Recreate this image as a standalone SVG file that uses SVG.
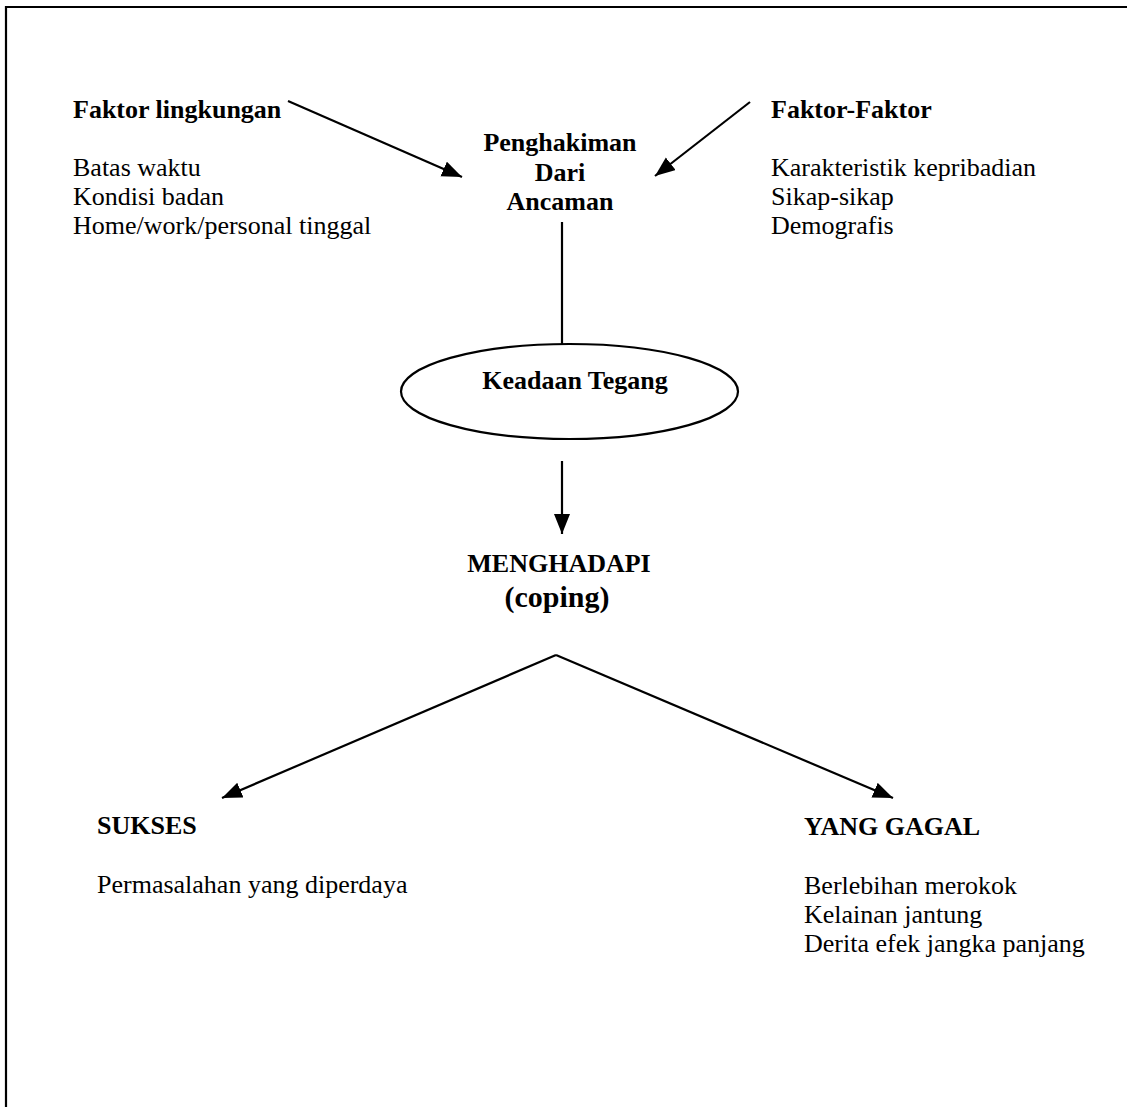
<svg xmlns="http://www.w3.org/2000/svg" width="1127" height="1107" viewBox="0 0 1127 1107">
<style>
text{font-family:'Liberation Serif','DejaVu Serif',serif;font-size:26px;fill:#000}
.b{font-weight:bold}
.c{text-anchor:middle}
.ln{stroke:#000;stroke-width:2.2;fill:none}
</style>
<defs>
<marker id="ah" markerUnits="userSpaceOnUse" markerWidth="22" markerHeight="18" refX="20" refY="8" orient="auto">
<path d="M0,0 L20,8 L0,16 Z" fill="#000"/>
</marker>
</defs>
<rect width="1127" height="1107" fill="#fff"/>
<g id="frame">
<path class="ln" d="M6,1107 V7 H1127"/>
</g>
<g id="connectors">
<line class="ln" x1="288" y1="101" x2="462" y2="177" marker-end="url(#ah)"/>
<line class="ln" x1="750" y1="102" x2="655" y2="176" marker-end="url(#ah)"/>
<line class="ln" x1="562" y1="222" x2="562" y2="344"/>
<line class="ln" x1="562" y1="461" x2="562" y2="534" marker-end="url(#ah)"/>
<line class="ln" x1="556" y1="655" x2="222" y2="798" marker-end="url(#ah)"/>
<line class="ln" x1="556" y1="655" x2="893" y2="798" marker-end="url(#ah)"/>
</g>
<g id="node-lingkungan" font-family="Liberation Serif, serif">
<text class="b" x="73" y="118">Faktor lingkungan</text>
<text x="73" y="176">Batas waktu</text>
<text x="73" y="205">Kondisi badan</text>
<text x="73" y="234">Home/work/personal tinggal</text>
</g>
<g id="node-faktor">
<text class="b" x="771" y="118">Faktor-Faktor</text>
<text x="771" y="176">Karakteristik kepribadian</text>
<text x="771" y="205">Sikap-sikap</text>
<text x="771" y="234">Demografis</text>
</g>
<g id="node-penghakiman">
<text class="b c" x="560" y="151">Penghakiman</text>
<text class="b c" x="560" y="181">Dari</text>
<text class="b c" x="560" y="210">Ancaman</text>
</g>
<g id="node-keadaan">
<ellipse class="ln" cx="569.5" cy="391.5" rx="168.5" ry="47.5"/>
<text class="b c" x="575" y="389">Keadaan Tegang</text>
</g>
<g id="node-menghadapi">
<text class="b c" x="559" y="572">MENGHADAPI</text>
<text class="b c" x="557" y="607" style="font-size:30px">(coping)</text>
</g>
<g id="node-sukses">
<text class="b" x="97" y="834">SUKSES</text>
<text x="97" y="893">Permasalahan yang diperdaya</text>
</g>
<g id="node-gagal">
<text class="b" x="804" y="835">YANG GAGAL</text>
<text x="804" y="894">Berlebihan merokok</text>
<text x="804" y="923">Kelainan jantung</text>
<text x="804" y="952">Derita efek jangka panjang</text>
</g>
</svg>
